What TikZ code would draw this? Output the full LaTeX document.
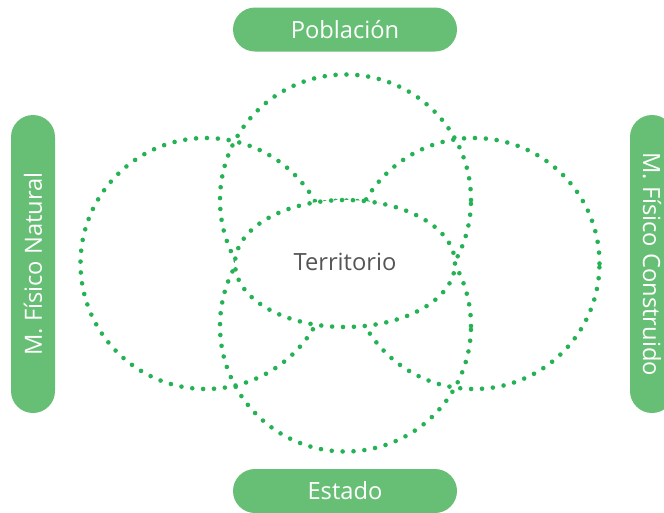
\documentclass[tikz,border=0pt]{standalone}
\usepackage{fontspec}
\setmainfont{Open Sans}
\usepackage{tikz}
\usetikzlibrary{positioning}
\definecolor{pillgreen}{RGB}{102,191,116}
\definecolor{dotgreen}{RGB}{36,178,84}
\definecolor{textgray}{RGB}{85,85,85}

\begin{document}
\begin{tikzpicture}[x=1pt,y=-1pt,
	pill/.style={fill=pillgreen,rounded corners=22pt,text=white,inner sep=0pt,
		font=\fontsize{23.7}{28}\selectfont,minimum height=44pt},
	ring/.style={dotgreen,line width=4.6pt,line cap=round,dash pattern=on 0pt off 10.9pt}]
	\useasboundingbox (0,0) rectangle (664,512);
	% dotted rings
	\draw[ring] (345.5,200) circle (125.5pt);
	\draw[ring] (345.5,326) circle (125.5pt);
	\draw[ring] (206,263.5) circle (125.5pt);
	\draw[ring] (474,263.5) circle (125.5pt);
	% centre ellipse hides the rings inside it
	\fill[white] (345,263.5) ellipse (110pt and 63.5pt);
	\draw[ring] (345,263.5) ellipse (110pt and 63.5pt);
	\node[text=textgray,font=\fontsize{23.7}{28}\selectfont] (terr) at (345,262) {Territorio};
	% labels
	\node[pill,minimum width=224pt] (pob) at (345,29.5) {Población};
	\node[pill,minimum width=224pt] (est) at (345,491) {Estado};
	\node[pill,minimum width=298pt,rotate=90] (nat) at (33,264) {M. Físico Natural};
	\node[pill,minimum width=298pt,rotate=-90] (con) at (652,264) {M. Físico Construido};
\end{tikzpicture}
\end{document}
